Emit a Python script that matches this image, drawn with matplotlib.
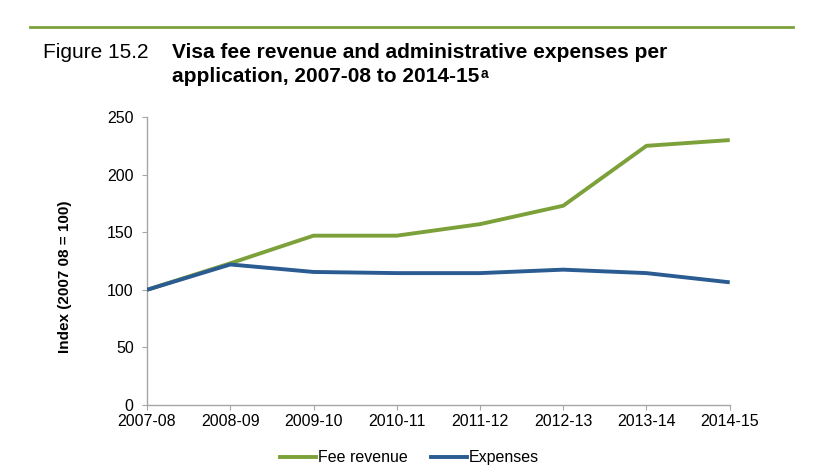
import matplotlib

matplotlib.use("Agg")

import matplotlib.pyplot as plt
from matplotlib.lines import Line2D

plt.rcParams["font.family"] = ["Liberation Sans", "DejaVu Sans"]

YEARS = ["2007-08", "2008-09", "2009-10", "2010-11", "2011-12", "2012-13", "2013-14", "2014-15"]
FEE_REVENUE = [100, 123, 147, 147, 157, 173, 225, 230]
EXPENSES = [100, 122, 115.5, 114.5, 114.5, 117.5, 114.5, 106.5]
Y_TICKS = [0, 50, 100, 150, 200, 250]

GREEN = "#7DA13A"
BLUE = "#2A5B91"
AXIS_GREY = "#A6A6A6"

fig = plt.figure(figsize=(8.19, 4.70), dpi=100)
ax = fig.add_axes([0.1795, 0.1383, 0.7115, 0.6127])

x = list(range(len(YEARS)))
ax.plot(x, FEE_REVENUE, color=GREEN, linewidth=2.8, solid_capstyle="butt", zorder=3)
ax.plot(x, EXPENSES, color=BLUE, linewidth=2.8, solid_capstyle="butt", zorder=3)

ax.set_xlim(0, len(YEARS) - 1)
ax.set_ylim(0, 250)
ax.set_xticks(x)
ax.set_xticklabels(YEARS, fontsize=11.5)
ax.set_yticks(Y_TICKS)
ax.set_yticklabels([str(v) for v in Y_TICKS], fontsize=11.5)
ax.tick_params(axis="both", direction="out", length=3.6, color=AXIS_GREY)
ax.tick_params(axis="x", pad=3)
ax.tick_params(axis="y", pad=6)

for side in ["top", "right"]:
    ax.spines[side].set_visible(False)
for side in ["left", "bottom"]:
    ax.spines[side].set_color(AXIS_GREY)
    ax.spines[side].set_linewidth(1.0)

ax.set_ylabel("Index (2007 08 = 100)", fontsize=11, fontweight="bold")
ax.yaxis.set_label_coords(-0.129, 0.444)

# rule and heading
fig.add_artist(Line2D([0.0366, 0.968], [0.943, 0.943], color=GREEN, linewidth=2.0))
fig.text(0.052, 0.877, "Figure 15.2", fontsize=15, va="baseline")
fig.text(0.21, 0.877, "Visa fee revenue and administrative expenses per", fontsize=15,
         fontweight="bold", va="baseline")
line2 = fig.text(0.21, 0.826, "application, 2007-08 to 2014-15", fontsize=15,
                 fontweight="bold", va="baseline")
# superscript note marker placed right after the second title line
ax.annotate("a", xy=(1.0, 0.42), xycoords=line2, xytext=(1, 0), textcoords="offset points",
            fontsize=10, fontweight="bold", va="baseline", ha="left", annotation_clip=False)

handles = [
    Line2D([], [], color=GREEN, linewidth=2.8),
    Line2D([], [], color=BLUE, linewidth=2.8),
]
fig.legend(handles, ["Fee revenue", "Expenses"], loc="center", bbox_to_anchor=(0.5, 0.026),
           ncol=2, frameon=False, fontsize=11.5, handlelength=2.25, handletextpad=0.15,
           columnspacing=1.45)

fig.savefig("out.png", dpi=100)
